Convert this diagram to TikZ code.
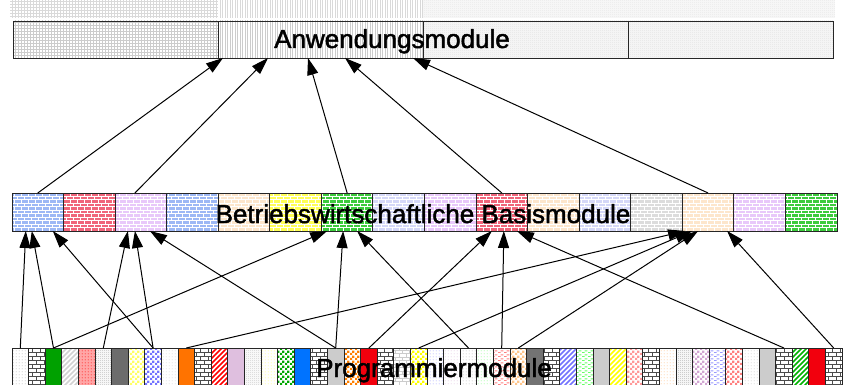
\documentclass[tikz,border=0pt]{standalone}
\usepackage{fontspec}
\setmainfont{Liberation Sans}
\newfontfamily\barfont[RawFeature={embolden=1.8}]{Liberation Sans}
\usetikzlibrary{arrows.meta, patterns}

% small fill patterns
\pgfdeclarepatternformonly{tinybricks}{\pgfpoint{-1pt}{-1pt}}{\pgfpoint{8pt}{8pt}}{\pgfpoint{7pt}{7pt}}{%
  \pgfsetlinewidth{0.6pt}%
  \pgfpathmoveto{\pgfpoint{0pt}{0pt}}\pgfpathlineto{\pgfpoint{7pt}{0pt}}%
  \pgfpathmoveto{\pgfpoint{0pt}{3.5pt}}\pgfpathlineto{\pgfpoint{7pt}{3.5pt}}%
  \pgfpathmoveto{\pgfpoint{0pt}{0pt}}\pgfpathlineto{\pgfpoint{0pt}{3.5pt}}%
  \pgfpathmoveto{\pgfpoint{3.5pt}{3.5pt}}\pgfpathlineto{\pgfpoint{3.5pt}{7pt}}%
  \pgfusepath{stroke}}
\pgfdeclarepatternformonly{bigbricks}{\pgfpoint{-1pt}{-1pt}}{\pgfpoint{9pt}{9pt}}{\pgfpoint{8pt}{8pt}}{%
  \pgfsetlinewidth{1pt}%
  \pgfpathmoveto{\pgfpoint{0pt}{0pt}}\pgfpathlineto{\pgfpoint{8pt}{0pt}}%
  \pgfpathmoveto{\pgfpoint{0pt}{4pt}}\pgfpathlineto{\pgfpoint{8pt}{4pt}}%
  \pgfpathmoveto{\pgfpoint{0pt}{0pt}}\pgfpathlineto{\pgfpoint{0pt}{4pt}}%
  \pgfpathmoveto{\pgfpoint{4pt}{4pt}}\pgfpathlineto{\pgfpoint{4pt}{8pt}}%
  \pgfusepath{stroke}}
\pgfdeclarepatternformonly{tinychecker}{\pgfpointorigin}{\pgfpoint{5pt}{5pt}}{\pgfpoint{5pt}{5pt}}{%
  \pgfpathrectangle{\pgfpointorigin}{\pgfpoint{2.5pt}{2.5pt}}%
  \pgfpathrectangle{\pgfpoint{2.5pt}{2.5pt}}{\pgfpoint{2.5pt}{2.5pt}}%
  \pgfusepath{fill}}
\pgfdeclarepatternformonly{finechecker}{\pgfpointorigin}{\pgfpoint{2pt}{2pt}}{\pgfpoint{2pt}{2pt}}{%
  \pgfpathrectangle{\pgfpointorigin}{\pgfpoint{1pt}{1pt}}%
  \pgfpathrectangle{\pgfpoint{1pt}{1pt}}{\pgfpoint{1pt}{1pt}}%
  \pgfusepath{fill}}
\pgfdeclarepatternformonly{tinydots}{\pgfpointorigin}{\pgfpoint{3pt}{3pt}}{\pgfpoint{3pt}{3pt}}{%
  \pgfpathcircle{\pgfpoint{1.5pt}{1.5pt}}{0.6pt}%
  \pgfusepath{fill}}
\pgfdeclarepatternformonly{tinystripes}{\pgfpoint{-1pt}{-1pt}}{\pgfpoint{6pt}{6pt}}{\pgfpoint{5pt}{5pt}}{%
  \pgfsetlinewidth{1.5pt}%
  \pgfpathmoveto{\pgfpoint{0pt}{0pt}}\pgfpathlineto{\pgfpoint{5.1pt}{5.1pt}}%
  \pgfusepath{stroke}}
\pgfdeclarepatternformonly{tinydashes}{\pgfpointorigin}{\pgfpoint{6pt}{4pt}}{\pgfpoint{6pt}{4pt}}{%
  \pgfpathrectangle{\pgfpointorigin}{\pgfpoint{3pt}{1.2pt}}%
  \pgfpathrectangle{\pgfpoint{3pt}{2pt}}{\pgfpoint{3pt}{1.2pt}}%
  \pgfusepath{fill}}
\pgfdeclarepatternformonly{tinygrid}{\pgfpoint{-0.5pt}{-0.5pt}}{\pgfpoint{3.5pt}{3.5pt}}{\pgfpoint{3pt}{3pt}}{%
  \pgfsetlinewidth{0.4pt}%
  \pgfpathmoveto{\pgfpoint{0pt}{0pt}}\pgfpathlineto{\pgfpoint{3pt}{0pt}}%
  \pgfpathmoveto{\pgfpoint{0pt}{0pt}}\pgfpathlineto{\pgfpoint{0pt}{3pt}}%
  \pgfusepath{stroke}}
\pgfdeclarepatternformonly{tinyvlines}{\pgfpoint{-0.5pt}{-0.5pt}}{\pgfpoint{3pt}{3pt}}{\pgfpoint{2.5pt}{2.5pt}}{%
  \pgfsetlinewidth{0.7pt}%
  \pgfpathmoveto{\pgfpoint{0pt}{0pt}}\pgfpathlineto{\pgfpoint{0pt}{2.5pt}}%
  \pgfusepath{stroke}}

\definecolor{mblue}{HTML}{9DB8F5}
\definecolor{mred}{HTML}{F0657A}
\definecolor{mviolet}{HTML}{E8C8FA}
\definecolor{mpeach}{HTML}{FDE6CC}
\definecolor{myellow}{HTML}{FFFF55}
\definecolor{mgreen}{HTML}{3CCB3C}
\definecolor{mlav}{HTML}{D5D8F8}
\definecolor{mgray}{HTML}{DCDCDC}

\tikzset{
  cell/.style={draw=black!85, line width=0.9pt, inner sep=0pt, outer sep=0pt},
  look/.style n args={3}{preaction={fill=#1}, pattern=#2, pattern color=#3},
  brick/.style={look={#1}{tinybricks}{white}},
  barname/.style={font=\barfont\fontsize{26}{30}\selectfont, anchor=base, inner sep=0pt},
  link/.style={line width=1pt, -{Triangle[length=17pt, width=11pt]}},
}

\begin{document}
\begin{tikzpicture}[x=1pt, y=-1pt]
\useasboundingbox (0,0) rectangle (843,385);

% cut-off layer above
\fill[look={white}{tinygrid}{gray!30}] (10,-2) rectangle (218,18);
\fill[look={white}{tinyvlines}{gray!30}] (218,-2) rectangle (423,18);
\fill[look={gray!5}{finechecker}{gray!18}] (423,-2) rectangle (835,18);

% Anwendungsmodule
\node[cell, minimum width=205pt, minimum height=37pt, look={white}{tinygrid}{gray!40}] (t1) at (115.5,39.5) {};
\node[cell, minimum width=205pt, minimum height=37pt, look={white}{tinyvlines}{gray!40}] (t2) at (320.5,39.5) {};
\node[cell, minimum width=205pt, minimum height=37pt, look={gray!6}{finechecker}{gray!22}] (t3) at (525.5,39.5) {};
\node[cell, minimum width=205pt, minimum height=37pt, look={gray!6}{finechecker}{gray!22}] (t4) at (730.5,39.5) {};

% Basismodule
\foreach \c [count=\i] in {mblue, mred, mviolet, mblue, mpeach, myellow, mgreen, mlav,
    mviolet, mred, mpeach, mlav, mgray, mpeach, mviolet, mgreen}
  \node[cell, minimum width=51.56pt, minimum height=38pt, brick=\c] (m\i) at ({12+51.5625*(\i-0.5)},212) {};

% Programmiermodule
\foreach \bg/\pt/\pc [count=\i] in {white/tinydots/gray!60, white/bigbricks/black!70, green!63!black/tinydots/green!63!black,
    white/tinystripes/gray!35, red!35/tinydots/red, white/finechecker/gray!55, gray!85!black/tinydots/gray!85!black,
    white/tinychecker/yellow!60, white/tinychecker/blue!55, white/tinydots/gray!35, orange!90!red/tinydots/orange!90!red,
    white/bigbricks/black!70, white/tinystripes/red, violet!25/tinydots/violet!25, white/finechecker/gray!40,
    white/tinydots/yellow!55, white/tinychecker/green!65!black, blue!55!cyan/tinydots/blue!55!cyan, white/bigbricks/black!70,
    gray!40/tinydots/gray!40, white/tinychecker/orange, red!95!blue/tinydots/red!95!blue, white/bigbricks/black!70,
    white/tinybricks/gray!40, white/tinychecker/yellow, white/tinydots/blue!35, white/tinydots/violet!25,
    white/tinydots/gray!50, white/tinydots/green!50, white/tinydashes/red!50, white/tinychecker/orange!45,
    gray!90!black/tinydots/gray!90!black, white/bigbricks/black!70, white/tinystripes/blue!55, white/tinydashes/green!60,
    gray!40/tinydots/gray!40, white/tinystripes/yellow, white/tinychecker/red!40, white/bigbricks/black!70,
    white/tinydots/orange!50, white/finechecker/gray!60, white/tinychecker/violet!35, white/tinydashes/blue!40,
    white/tinychecker/red!50, white/tinydots/gray!45, gray!40/tinydots/gray!40, white/bigbricks/black!70,
    white/tinystripes/green!70!black, red!95!blue/tinydots/red!95!blue, white/bigbricks/black!70}
  \node[cell, minimum width=16.6pt, minimum height=44pt, look={\bg}{\pt}{\pc}] (p\i) at ({12+16.6*(\i-0.5)},370) {};

\node[barname] (anw) at (392,48) {Anwendungsmodule};
\node[barname] (bas) at (423,223) {Betriebswirtschaftliche Basismodule};
\node[barname] (prg) at (434,377) {Programmiermodule};

% Basismodule -> Anwendungsmodule
\draw[link] (m1.north) -- ([xshift=-97.5pt]t2.south);
\draw[link] ([xshift=-6pt]m3.north) -- ([xshift=-52.5pt]t2.south);
\draw[link] (m7.north) -- ([xshift=-12.5pt]t2.south);
\draw[link] (m10.north) -- ([xshift=24.5pt]t2.south);
\draw[link] (m14.north) -- ([xshift=92.5pt]t2.south);

% Programmiermodule -> Basismodule
\draw[link] (p1.north) -- ([xshift=-12pt]m1.south);
\draw[link] (p3.north) -- ([xshift=-6pt]m1.south);
\draw[link] (p9.north) -- ([xshift=15pt]m1.south);
\draw[link] (p6.north) -- ([xshift=-13pt]m3.south);
\draw[link] (p9.north) -- ([xshift=-6pt]m3.south);
\draw[link] (p20.north) -- ([xshift=9pt]m3.south);
\draw[link] (p3.north) -- ([xshift=-20pt]m7.south);
\draw[link] (p20.north) -- ([xshift=-4pt]m7.south);
\draw[link] (p28.north) -- ([xshift=10pt]m7.south);
\draw[link] (p22.north) -- ([xshift=-10pt]m10.south);
\draw[link] (p30.north) -- ([xshift=2pt]m10.south);
\draw[link] (p47.north) -- ([xshift=15pt]m10.south);
\draw[link] (p11.north) -- ([xshift=-23pt]m14.south);
\draw[link] (p25.north) -- ([xshift=-16pt]m14.south);
\draw[link] (p31.north) -- ([xshift=-10pt]m14.south);
\draw[link] (p50.north) -- ([xshift=19pt]m14.south);
\end{tikzpicture}
\end{document}
